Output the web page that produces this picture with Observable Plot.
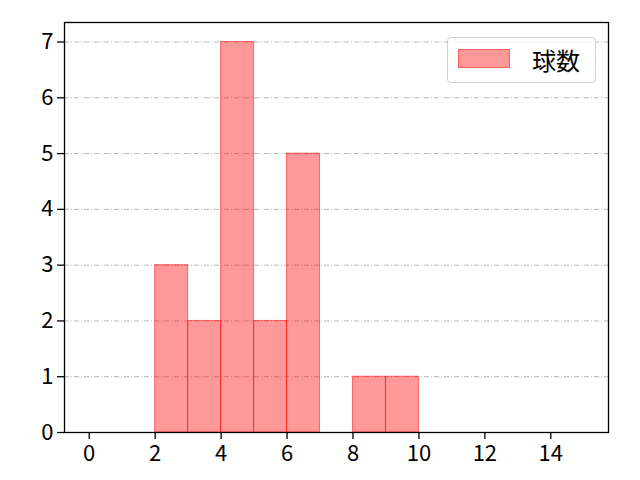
<!DOCTYPE html>
<html>
<head>
<meta charset="utf-8">
<script src="https://cdn.jsdelivr.net/npm/d3@7"></script>
<script src="https://cdn.jsdelivr.net/npm/@observablehq/plot@0.6"></script>
<style>
  html, body { margin: 0; padding: 0; background: #fff; }
  #wrap { position: relative; width: 640px; height: 480px; font-family: "Noto Sans CJK JP", "DejaVu Sans", sans-serif; }
  #legend { position: absolute; left: 447px; top: 37px; width: 147px; height: 44px;
    border: 1px solid #d0d0d0; border-radius: 4px; background: rgba(255,255,255,0.8); box-sizing: content-box; }
  #legend .sw { position: absolute; left: 10px; top: 11px; width: 52px; height: 19px;
    background: rgba(255,0,0,0.4); border: 1px solid rgba(255,0,0,0.4); box-sizing: border-box; }
  #legend .lb { position: absolute; left: 84px; top: 0; line-height: 44px; font-size: 24px; color: #000; }
</style>
</head>
<body>
<div id="wrap"></div>
<script>
const binStart = [2, 3, 4, 5, 6, 7, 8, 9];
const binEnd   = [3, 4, 5, 6, 7, 8, 9, 10];
const counts   = [3, 2, 7, 2, 5, 0, 1, 1];
const xTicks = [0, 2, 4, 6, 8, 10, 12, 14];
const yTicks = [0, 1, 2, 3, 4, 5, 6, 7];
const seriesName = "球数";

const bars = binStart.map((s, i) => ({x1: s, x2: binEnd[i], y: counts[i]})).filter(d => d.y > 0);

const chart = Plot.plot({
  width: 640,
  height: 480,
  marginLeft: 64,
  marginRight: 32,
  marginTop: 22,
  marginBottom: 48,
  style: {fontFamily: '"Noto Sans CJK JP", "DejaVu Sans", sans-serif', color: "#000", background: "#fff"},
  x: {domain: [-0.75, 15.75], ticks: xTicks, label: null},
  y: {domain: [0, 7.35], ticks: yTicks, label: null},
  marks: [
    Plot.ruleY(yTicks.filter(t => t > 0), {stroke: "#b0b0b0", strokeWidth: 0.9, strokeDasharray: "5,2,1,2"}),
    Plot.rectY(bars, {x1: "x1", x2: "x2", y: "y", fill: "#ff0000", fillOpacity: 0.4, stroke: "#ff0000", strokeOpacity: 0.5, strokeWidth: 1, inset: 0}),
    Plot.frame({stroke: "#000", strokeWidth: 1.3}),
    Plot.axisX({ticks: xTicks, tickSize: 7, tickPadding: 6, stroke: "#000", strokeWidth: 1.3, fontSize: 22, label: null}),
    Plot.axisY({ticks: yTicks, tickSize: 7, tickPadding: 4, stroke: "#000", strokeWidth: 1.3, fontSize: 22, label: null})
  ]
});
d3.select(chart).selectAll("text").attr("font-size", 22).style("font-size", "22px");
const wrap = document.getElementById("wrap");
wrap.appendChild(chart);
const lg = document.createElement("div");
lg.id = "legend";
lg.innerHTML = '<div class="sw"></div><div class="lb"></div>';
lg.querySelector(".lb").textContent = seriesName;
wrap.appendChild(lg);
</script>
</body>
</html>
